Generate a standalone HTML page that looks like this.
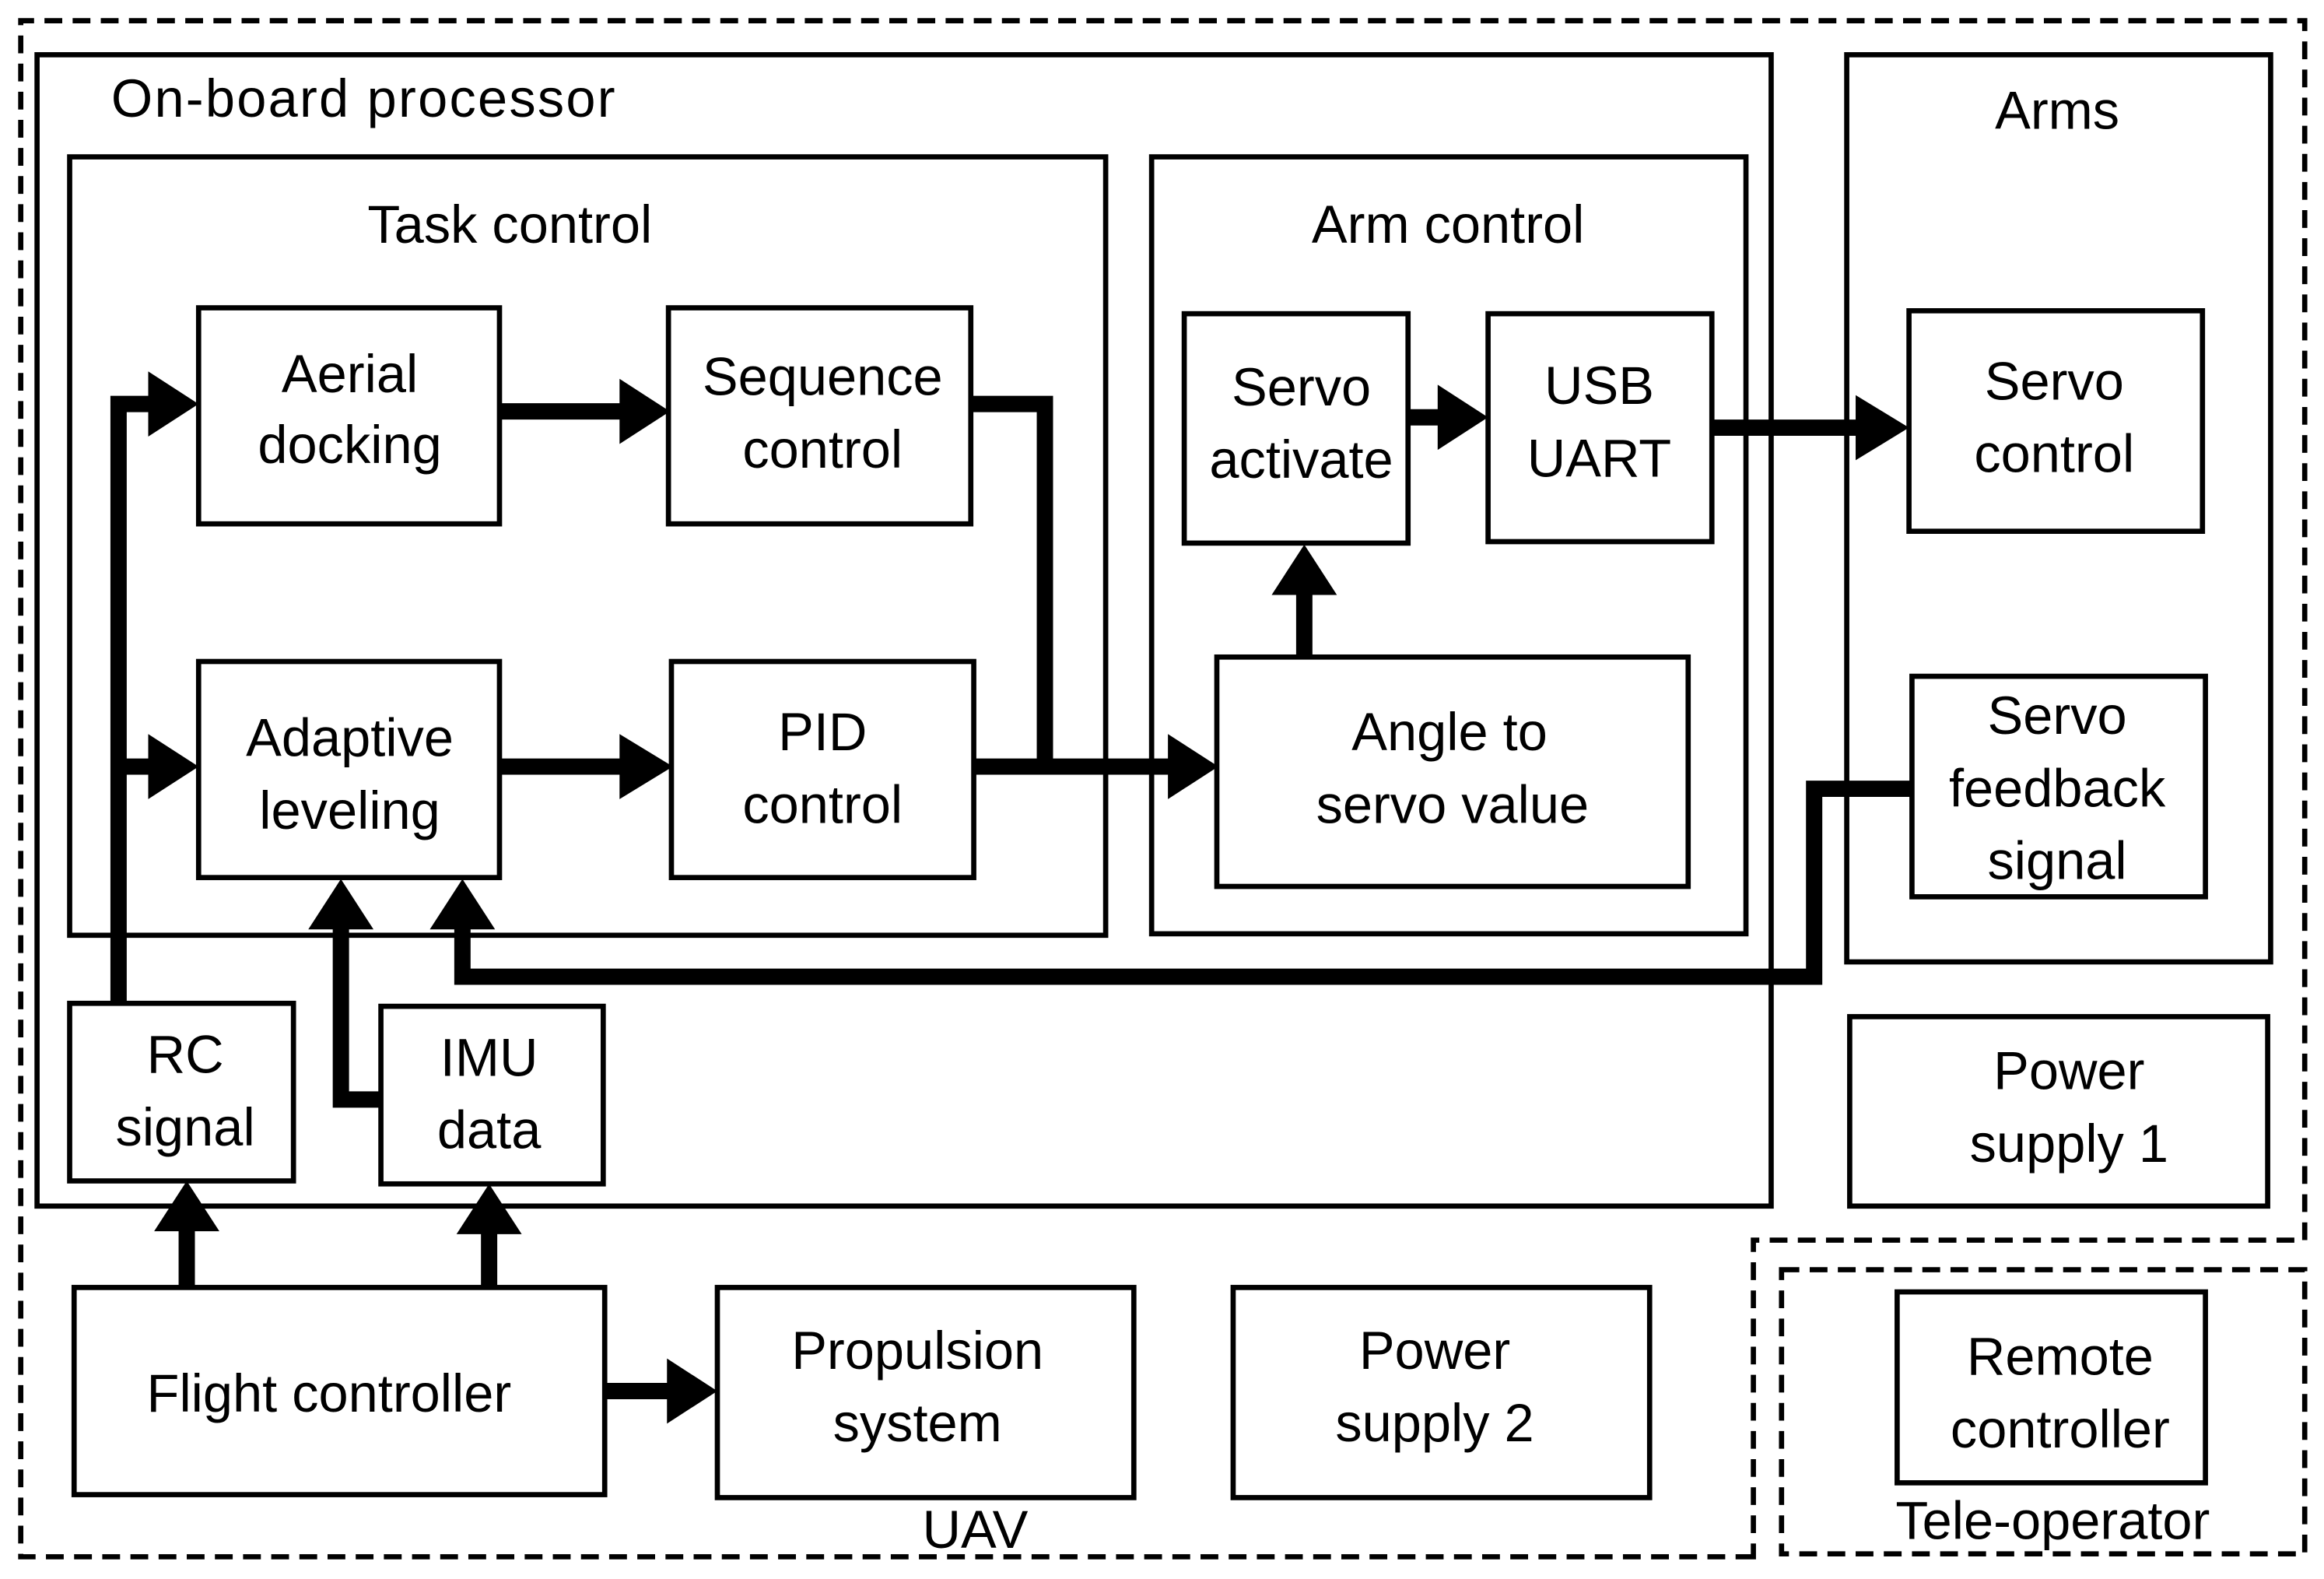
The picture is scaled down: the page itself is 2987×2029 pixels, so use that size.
<!DOCTYPE html>
<html><head><meta charset="utf-8"><style>
html,body{margin:0;padding:0;background:#fff;}
svg{display:block;}
text{font-family:"Liberation Sans",sans-serif;font-size:36px;fill:#000;text-anchor:middle;font-stretch:expanded;}
.b{fill:none;stroke:#000;stroke-width:3.5;}
.d{fill:none;stroke:#000;stroke-width:3.5;stroke-dasharray:12 7;}
.l{fill:none;stroke:#000;stroke-width:11;stroke-linejoin:miter;}
</style></head><body>
<svg width="2987" height="2029" viewBox="0 0 1568 1067" preserveAspectRatio="none" xmlns="http://www.w3.org/2000/svg">
<path class="d" d="M1183,1052 L14,1052 L14,14 L1555,14 L1555,838 L1183,838 Z"/>
<rect class="d" x="1202" y="858" width="353" height="192"/>
<rect class="b" x="25" y="37" width="1170" height="778"/>
<text x="75" y="79" style="text-anchor:start" textLength="340">On-board processor</text>
<rect class="b" x="47" y="106" width="699" height="526"/>
<text x="344" y="164">Task control</text>
<rect class="b" x="777" y="106" width="401" height="525"/>
<text x="977" y="164">Arm control</text>
<rect class="b" x="1246" y="37" width="286" height="613"/>
<text x="1388" y="87">Arms</text>
<rect class="b" x="134" y="208" width="203" height="146"/>
<text x="236" y="265">Aerial</text><text x="236" y="313">docking</text>
<rect class="b" x="451" y="208" width="204" height="146"/>
<text x="555" y="267">Sequence</text><text x="555" y="316">control</text>
<rect class="b" x="134" y="447" width="203" height="146"/>
<text x="236" y="511">Adaptive</text><text x="236" y="560">leveling</text>
<rect class="b" x="453" y="447" width="204" height="146"/>
<text x="555" y="507">PID</text><text x="555" y="556">control</text>
<rect class="b" x="799" y="212" width="151" height="155"/>
<text x="878" y="274">Servo</text><text x="878" y="323">activate</text>
<rect class="b" x="1004" y="212" width="151" height="154"/>
<text x="1079" y="273">USB</text><text x="1079" y="322">UART</text>
<rect class="b" x="821" y="444" width="318" height="155"/>
<text x="978" y="507">Angle to</text><text x="980" y="556">servo value</text>
<rect class="b" x="1288" y="210" width="198" height="149"/>
<text x="1386" y="270">Servo</text><text x="1386" y="319">control</text>
<rect class="b" x="1290" y="457" width="198" height="149"/>
<text x="1388" y="496">Servo</text><text x="1388" y="545">feedback</text><text x="1388" y="594">signal</text>
<rect class="b" x="47" y="678" width="151" height="120"/>
<text x="125" y="725">RC</text><text x="125" y="774">signal</text>
<rect class="b" x="257" y="680" width="150" height="120"/>
<text x="330" y="727">IMU</text><text x="330" y="776">data</text>
<rect class="b" x="1248" y="687" width="282" height="128"/>
<text x="1396" y="736">Power</text><text x="1396" y="785">supply 1</text>
<rect class="b" x="50" y="870" width="358" height="140"/>
<text x="222" y="954">Flight controller</text>
<rect class="b" x="484" y="870" width="281" height="142"/>
<text x="619" y="925">Propulsion</text><text x="619" y="974">system</text>
<rect class="b" x="832" y="870" width="281" height="142"/>
<text x="968" y="925">Power</text><text x="968" y="974">supply 2</text>
<rect class="b" x="1280" y="873" width="208" height="129"/>
<text x="1390" y="929">Remote</text><text x="1390" y="978">controller</text>
<text x="658" y="1046">UAV</text>
<text x="1385" y="1040">Tele-operator</text>
<path class="l" d="M337,278 L420,278"/><polygon points="418,256 452,278 418,300"/>
<path class="l" d="M337,518 L420,518"/><polygon points="418,496 454,518 418,540"/>
<path class="l" d="M80,678 L80,273 L102,273"/><polygon points="100,251 134,273 100,295"/>
<path class="l" d="M80,518 L102,518"/><polygon points="100,496 134,518 100,540"/>
<path class="l" d="M655,273 L705,273 L705,518"/>
<path class="l" d="M657,518 L790,518"/><polygon points="788,496 822,518 788,540"/>
<path class="l" d="M880,444 L880,400"/><polygon points="858,402 880,368 902,402"/>
<path class="l" d="M950,282 L972,282"/><polygon points="970,260 1004,282 970,304"/>
<path class="l" d="M1155,289 L1254,289"/><polygon points="1252,267 1288,289 1252,311"/>
<path class="l" d="M1290,533 L1224,533 L1224,660 L312,660 L312,626"/><polygon points="290,628 312,594 334,628"/>
<path class="l" d="M257,743 L230,743 L230,626"/><polygon points="208,628 230,594 252,628"/>
<path class="l" d="M126,870 L126,830"/><polygon points="104,832 126,798 148,832"/>
<path class="l" d="M330,870 L330,832"/><polygon points="308,834 330,800 352,834"/>
<path class="l" d="M408,940 L452,940"/><polygon points="450,918 484,940 450,962"/>
</svg>
</body></html>
